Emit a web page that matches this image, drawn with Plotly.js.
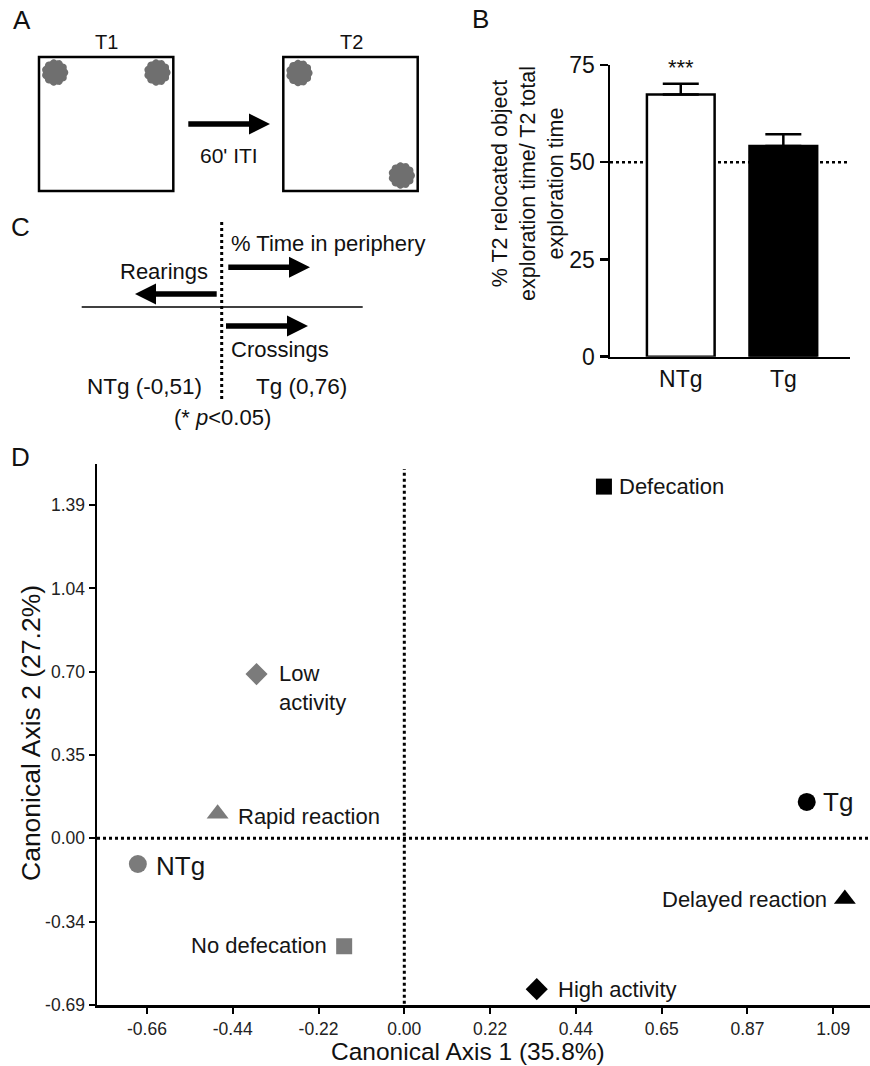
<!DOCTYPE html>
<html><head><meta charset="utf-8">
<script src="https://cdn.plot.ly/plotly-3.0.1.min.js"></script>
<style>html,body{margin:0;padding:0;background:#fff;}</style>
</head><body><div id="chart" style="width:870px;height:1066px;"></div>
<script>
// ---------- Panel B data ----------
const groupsB = ['NTg', 'Tg'];
const meanB = [67.4, 54.2];
const semB = [2.8, 3.0];
const chanceB = 50;
const yTicksB = [0, 25, 50, 75];
const starsB = ['***', ''];

// ---------- Panel D data ----------
const labelsD = ['NTg', 'Tg', 'Low activity', 'High activity', 'Rapid reaction', 'Delayed reaction', 'No defecation', 'Defecation'];
const axis1D = [-0.678, 1.024, -0.376, 0.337, -0.475, 1.121, -0.153, 0.508];
const axis2D = [-0.107, 0.152, 0.685, -0.629, 0.103, -0.253, -0.45, 1.467];
const xTickTextD = ['-0.66', '-0.44', '-0.22', '0.00', '0.22', '0.44', '0.65', '0.87', '1.09'];
const yTickTextD = ['-0.69', '-0.34', '0.00', '0.35', '0.70', '1.04', '1.39'];

// ---------- styles (kept apart from data) ----------
const FONT = 'Liberation Sans, Arial, Helvetica, sans-serif';
const GREY = '#7b7b7b';
// dx: horizontal offset of label box edge (px); dy: downward offset of label centre (px)
const styleD = {
  'NTg':              {symbol: 'circle',      color: GREY,   size: 18, labelSize: 26, side: 'right', dx: 16, dy: 2, text: 'NTg'},
  'Tg':               {symbol: 'circle',      color: '#000', size: 18, labelSize: 26, side: 'right', dx: 14, dy: 0, text: 'Tg'},
  'Low activity':     {symbol: 'diamond',     color: GREY,   size: 17, labelSize: 22, side: 'right', dx: 20, dy: 14, text: 'Low<br>activity'},
  'High activity':    {symbol: 'diamond',     color: '#000', size: 17, labelSize: 22, side: 'right', dx: 19, dy: 0, text: 'High activity'},
  'Rapid reaction':   {symbol: 'triangle-up', color: GREY,   size: 19, labelSize: 22, side: 'right', dx: 18, dy: 3, text: 'Rapid reaction'},
  'Delayed reaction': {symbol: 'triangle-up', color: '#000', size: 19, labelSize: 22, side: 'left',  dx: -16, dy: 0, text: 'Delayed reaction'},
  'No defecation':    {symbol: 'square',      color: GREY,   size: 16, labelSize: 22, side: 'left',  dx: -15, dy: -1, text: 'No defecation'},
  'Defecation':       {symbol: 'square',      color: '#000', size: 16, labelSize: 22, side: 'right', dx: 13, dy: 0, text: 'Defecation'}
};

const W = 870, H = 1066;
const px = x => x / W;
const py = y => 1 - y / H;

// geometry helpers for schematic panels (pixel space -> paper)
function arrowPath(x0, x1, y, sw, hl, hh) {
  const s = x1 > x0 ? 1 : -1;
  const pts = [[x0, y - sw / 2], [x1 - s * hl, y - sw / 2], [x1 - s * hl, y - hh / 2], [x1, y],
               [x1 - s * hl, y + hh / 2], [x1 - s * hl, y + sw / 2], [x0, y + sw / 2]];
  return 'M' + pts.map(p => px(p[0]).toFixed(5) + ',' + py(p[1]).toFixed(5)).join(' L') + ' Z';
}
function scallopPath(cx, cy, R) {
  const n = 96, bumps = 11, amp = 1.3;
  let d = '';
  for (let i = 0; i <= n; i++) {
    const t = 2 * Math.PI * i / n;
    const r = R - amp + amp * Math.abs(Math.cos(bumps * t / 2));
    const x = cx + r * Math.cos(t), y = cy + r * Math.sin(t);
    d += (i === 0 ? 'M' : ' L') + px(x).toFixed(5) + ',' + py(y).toFixed(5);
  }
  return d + ' Z';
}

const shapes = [];
// Panel A boxes
[[39, 173.3], [283.3, 417.7]].forEach(b => shapes.push({type: 'rect', xref: 'paper', yref: 'paper',
  x0: px(b[0]), x1: px(b[1]), y0: py(191), y1: py(57), line: {color: '#000', width: 2.5}}));
// Panel A objects
[[55, 72.5], [157.3, 72.5], [299.3, 73], [401.7, 175.5]].forEach(c => shapes.push({type: 'path', xref: 'paper', yref: 'paper',
  path: scallopPath(c[0], c[1], 13.3), fillcolor: '#6f6f6f', line: {width: 0}}));
// Arrows A and C
[[188.3, 270, 124], [228.3, 310, 267.3], [216.7, 135, 294], [226, 308, 326]].forEach(a => shapes.push({type: 'path', xref: 'paper', yref: 'paper',
  path: arrowPath(a[0], a[1], a[2], 5.5, 21, 21), fillcolor: '#000', line: {width: 0}}));
// Panel C lines
shapes.push({type: 'line', xref: 'paper', yref: 'paper', x0: px(81.7), x1: px(362.7), y0: py(307), y1: py(307), line: {color: '#000', width: 1.6}});
shapes.push({type: 'line', xref: 'paper', yref: 'paper', x0: px(221.7), x1: px(221.7), y0: py(222), y1: py(400), line: {color: '#000', width: 3, dash: 'dot'}});
// Panel B chance line
shapes.push({type: 'line', xref: 'x2 domain', yref: 'y2', x0: 0, x1: 1, y0: chanceB, y1: chanceB, line: {color: '#000', width: 2.5, dash: 'dot'}, layer: 'below'});
// Panel D zero lines
shapes.push({type: 'line', xref: 'x domain', yref: 'y', x0: 0, x1: 1, y0: 0, y1: 0, line: {color: '#000', width: 3, dash: 'dot'}});
shapes.push({type: 'line', xref: 'x', yref: 'y', x0: 0, x1: 0, y0: -0.69, y1: 1.54, line: {color: '#000', width: 3, dash: 'dot'}});

const ann = [];
function txt(t, x, y, size, opts) {
  ann.push(Object.assign({text: t, xref: 'paper', yref: 'paper', x: px(x), y: py(y), xanchor: 'center', yanchor: 'middle',
    showarrow: false, font: {family: FONT, size: size, color: '#111'}}, opts || {}));
}
txt('A', 21.7, 20, 26);
txt('B', 480, 19, 26);
txt('C', 20, 227, 26);
txt('D', 20, 457, 26);
txt('T1', 106.7, 41.5, 20);
txt('T2', 351.7, 41.5, 20);
txt("60' ITI", 228.5, 155, 21);
txt('% Time in periphery', 229, 243.3, 22, {xanchor: 'left'});
txt('Rearings', 164, 271.7, 22);
txt('Crossings', 229, 349.3, 22, {xanchor: 'left'});
txt('NTg (-0,51)', 144, 386.7, 22.5);
txt('Tg (0,76)', 301, 386.7, 22.5);
txt('(* <i>p</i>&lt;0.05)', 222.5, 418, 22);
// Panel B y title
txt('% T2 relocated object<br>exploration time/ T2 total<br>exploration time', 528, 184, 21.5, {textangle: -90});
// Panel D axis titles
txt('Canonical Axis 1 (35.8%)', 468, 1066, 24.5, {yanchor: 'bottom', borderpad: 0});
txt('Canonical Axis 2 (27.2%)', 31, 733, 26.5, {textangle: -90});
// Panel B stars
groupsB.forEach((g, i) => { if (starsB[i]) ann.push({text: starsB[i], xref: 'x2', yref: 'y2', x: g, y: meanB[i] + semB[i],
  yanchor: 'bottom', yshift: 2, showarrow: false, font: {family: FONT, size: 22, color: '#111'}}); });
// Panel D point labels
labelsD.forEach((l, i) => {
  const s = styleD[l];
  ann.push({text: s.text, xref: 'x', yref: 'y', x: axis1D[i], y: axis2D[i], xanchor: s.side === 'right' ? 'left' : 'right',
    yanchor: 'middle', align: 'left', xshift: s.dx, yshift: -s.dy, showarrow: false,
    font: {family: FONT, size: s.labelSize, color: '#151515'}});
});

const traces = [
  {type: 'scatter', mode: 'markers', x: axis1D, y: axis2D, xaxis: 'x', yaxis: 'y', hoverinfo: 'text', text: labelsD,
   marker: {symbol: labelsD.map(l => styleD[l].symbol), color: labelsD.map(l => styleD[l].color), opacity: 1,
            size: labelsD.map(l => styleD[l].size), line: {width: 0}}, cliponaxis: false},
  {type: 'bar', x: groupsB, y: meanB, xaxis: 'x2', yaxis: 'y2', width: 0.66,
   marker: {color: ['#ffffff', '#000000'], line: {color: '#000', width: 2.5}},
   error_y: {type: 'data', array: semB, arrayminus: groupsB.map(() => 0), symmetric: false, color: '#000', thickness: 2.5, width: 18}}
];

const xTickValsD = xTickTextD.map((t, i) => (i - 3) * 0.2183);
const yTickValsD = yTickTextD.map((t, i) => (i - 2) * 0.3475);

const layout = {
  width: W, height: H, margin: {l: 0, r: 0, t: 0, b: 0}, showlegend: false,
  paper_bgcolor: '#fff', plot_bgcolor: 'rgba(0,0,0,0)',
  font: {family: FONT, color: '#111'},
  xaxis: {domain: [px(97), 1], range: [(97 - 404.3) / 393, (870 - 404.3) / 393], anchor: 'y',
          tickvals: xTickValsD, ticktext: xTickTextD, ticks: 'outside', ticklen: 6, tickwidth: 2, tickcolor: '#000',
          showline: true, linecolor: '#000', linewidth: 2.5, showgrid: false, zeroline: false,
          tickfont: {family: FONT, size: 17.5, color: '#222'}},
  yaxis: {domain: [py(1005), py(464)], range: [-0.695, (838.7 - 464) / 240], anchor: 'x',
          tickvals: yTickValsD, ticktext: yTickTextD, ticks: 'outside', ticklen: 6, tickwidth: 2, tickcolor: '#000',
          showline: true, linecolor: '#000', linewidth: 2.5, showgrid: false, zeroline: false,
          tickfont: {family: FONT, size: 17.5, color: '#222'}},
  xaxis2: {domain: [px(610), px(850)], range: [-0.69, 1.65], anchor: 'y2', type: 'category',
           ticks: '', showline: true, linecolor: '#000', linewidth: 2.5, showgrid: false, zeroline: false,
           tickfont: {family: FONT, size: 23, color: '#111'}},
  yaxis2: {domain: [py(356.7), py(65)], range: [0, 75], anchor: 'x2', tickvals: yTicksB,
           ticks: 'outside', ticklen: 8, tickwidth: 2.5, tickcolor: '#000',
           showline: true, linecolor: '#000', linewidth: 2.5, showgrid: false, zeroline: false,
           tickfont: {family: FONT, size: 23, color: '#111'}},
  shapes: shapes,
  annotations: ann
};

Plotly.newPlot('chart', traces, layout, {displayModeBar: false, staticPlot: true});
</script>
</body></html>
